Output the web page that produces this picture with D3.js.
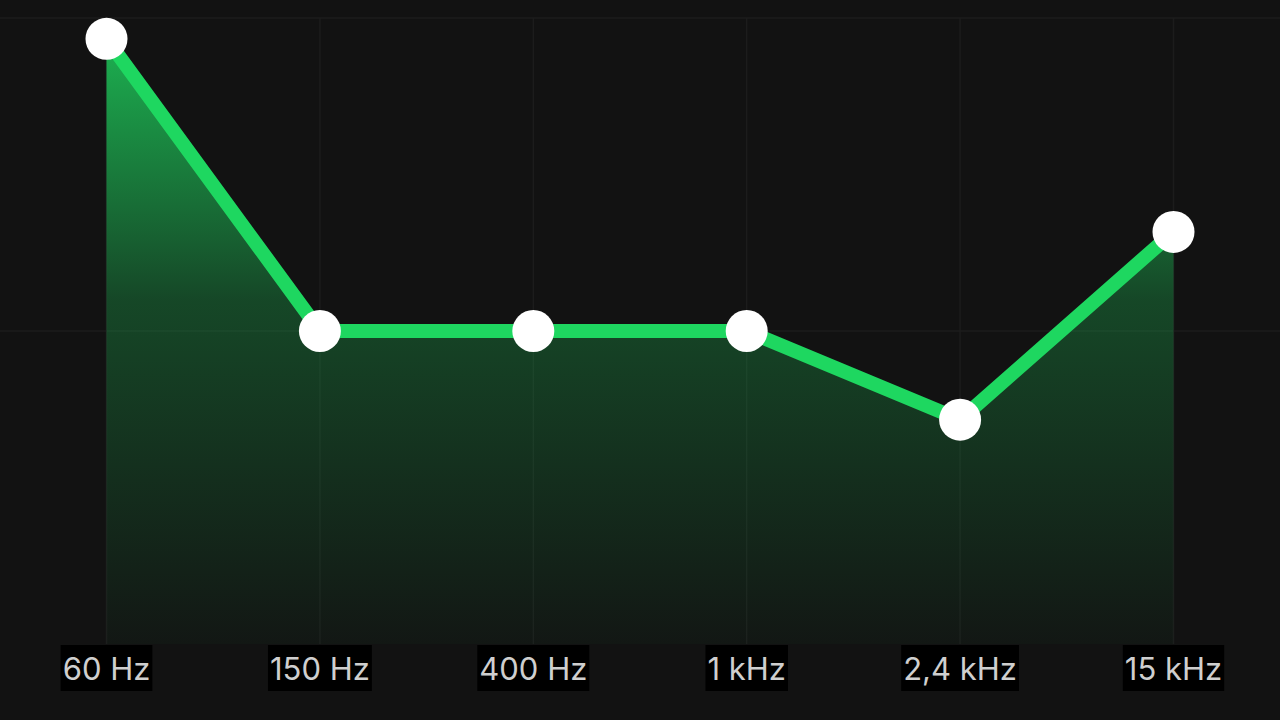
<!DOCTYPE html>
<head>
  <meta charset="utf-8">
  <script src="https://d3js.org/d3.v7.min.js"></script>
  <style>
    body { margin:0; background:#121212; overflow:hidden; }
  </style>
</head>
<body>
<script>
  // equalizer bands and gains (dB)
  var bands = ["60 Hz", "150 Hz", "400 Hz", "1 kHz", "2,4 kHz", "15 kHz"];
  var gains = [11.2, 0, 0, 0, -3.4, 3.8];
  var gridLevels = [0, 12];

  var width = 1280, height = 720;

  var data = bands.map(function(b, i) { return {band: b, gain: gains[i]}; });

  var svg = d3.select("body").append("svg")
    .attr("width", width)
    .attr("height", height);

  svg.append("rect")
    .attr("width", width)
    .attr("height", height)
    .attr("fill", "#121212");

  var x = d3.scalePoint()
    .domain(bands)
    .range([106.5, 1173.5]);

  var y = d3.scaleLinear()
    .domain([-12, 12])
    .range([644, 18]);

  // gradient for the area
  var grad = svg.append("defs").append("linearGradient")
    .attr("id", "fillGrad")
    .attr("gradientUnits", "userSpaceOnUse")
    .attr("x1", 0).attr("x2", 0)
    .attr("y1", y(12)).attr("y2", y(-12));
  grad.append("stop").attr("offset", "0%").attr("stop-color", "#1db954").attr("stop-opacity", 1);
  grad.append("stop").attr("offset", "45%").attr("stop-color", "#1db954").attr("stop-opacity", 0.32);
  grad.append("stop").attr("offset", "100%").attr("stop-color", "#1db954").attr("stop-opacity", 0.03);

  // grid
  svg.append("g").selectAll("line.v")
    .data(bands).enter()
    .append("line")
    .attr("x1", function(d) { return x(d); })
    .attr("x2", function(d) { return x(d); })
    .attr("y1", y(12))
    .attr("y2", y(-12))
    .attr("stroke", "#1c1c1c")
    .attr("stroke-width", 1.5);

  svg.append("g").selectAll("line.h")
    .data(gridLevels).enter()
    .append("line")
    .attr("x1", 0)
    .attr("x2", width)
    .attr("y1", function(d) { return y(d); })
    .attr("y2", function(d) { return y(d); })
    .attr("stroke", "#1c1c1c")
    .attr("stroke-width", 1.5);

  var area = d3.area()
    .x(function(d) { return x(d.band); })
    .y0(y(-12))
    .y1(function(d) { return y(d.gain); });

  var line = d3.line()
    .x(function(d) { return x(d.band); })
    .y(function(d) { return y(d.gain); });

  svg.append("path")
    .datum(data)
    .attr("d", area)
    .attr("fill", "url(#fillGrad)");

  svg.append("path")
    .datum(data)
    .attr("d", line)
    .attr("fill", "none")
    .attr("stroke", "#1ed760")
    .attr("stroke-width", 14)
    .attr("stroke-linejoin", "round");

  svg.selectAll("circle")
    .data(data).enter()
    .append("circle")
    .attr("cx", function(d) { return x(d.band); })
    .attr("cy", function(d) { return y(d.gain); })
    .attr("r", 21)
    .attr("fill", "#ffffff");

  // labels with black boxes
  var labels = svg.append("g").selectAll("g")
    .data(bands).enter()
    .append("g");

  labels.append("rect").attr("fill", "#000000");

  labels.append("text")
    .attr("x", function(d) { return x(d); })
    .attr("y", 680)
    .attr("text-anchor", "middle")
    .style("font-family", "Inter, 'Noto Sans', sans-serif")
    .style("font-size", "31px")
    .style("fill", "#cfcfcf")
    .text(function(d) { return d; });

  labels.each(function() {
    var g = d3.select(this);
    var bb = g.select("text").node().getBBox();
    g.select("rect")
      .attr("x", bb.x - 2)
      .attr("y", 645)
      .attr("width", bb.width + 4)
      .attr("height", 46);
  });
</script>
</body>
